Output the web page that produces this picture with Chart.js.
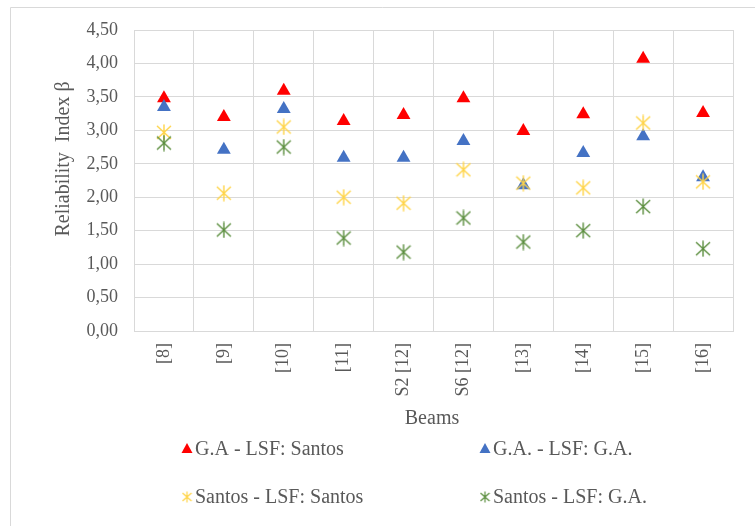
<!DOCTYPE html>
<html>
<head>
<meta charset="utf-8">
<script src="https://cdn.jsdelivr.net/npm/chart.js@4/dist/chart.umd.min.js"></script>
<style>
  html, body { margin: 0; padding: 0; background: #ffffff; }
  #wrap { position: relative; width: 755px; height: 526px; }
</style>
</head>
<body>
<div id="wrap"><canvas id="c" width="755" height="526"></canvas></div>
<script>
// ---- data ----
const categories = ['[8]', '[9]', '[10]', '[11]', 'S2 [12]', 'S6 [12]', '[13]', '[14]', '[15]', '[16]'];
const gaSantos     = [3.48, 3.20, 3.59, 3.14, 3.23, 3.48, 2.99, 3.24, 4.07, 3.26];
const gaGA         = [3.35, 2.71, 3.32, 2.59, 2.59, 2.84, 2.18, 2.66, 2.91, 2.30];
const santosSantos = [2.97, 2.06, 3.05, 2.00, 1.91, 2.41, 2.21, 2.14, 3.11, 2.23];
const santosGA     = [2.81, 1.51, 2.75, 1.39, 1.18, 1.69, 1.33, 1.50, 1.86, 1.23];
const seriesNames  = ['G.A - LSF: Santos', 'G.A. - LSF: G.A.', 'Santos - LSF: Santos', 'Santos - LSF: G.A.'];
const yTickMin = 0, yTickMax = 4.5, yTickStep = 0.5;
const yTitle = 'Reliability  Index β';
const xTitle = 'Beams';

// ---- styles ----
const RED = '#FF0000', BLUE = '#4472C4', YELLOW = '#FFD447', GREEN = '#5B8E3E';
const FONT = "'Liberation Serif', 'Times New Roman', serif";
const TXT = '#595959';
const GRID = '#d9d9d9';

function starCanvas(color, w, h, lw) {
  const c = document.createElement('canvas');
  c.width = w; c.height = h;
  const g = c.getContext('2d');
  g.strokeStyle = color; g.lineWidth = lw; g.lineCap = 'butt';
  g.beginPath();
  g.moveTo(w / 2, 0.5); g.lineTo(w / 2, h - 0.5);
  g.moveTo(1, 2); g.lineTo(w - 1, h - 2);
  g.moveTo(w - 1, 2); g.lineTo(1, h - 2);
  g.stroke();
  return c;
}
const yellowStar = starCanvas(YELLOW, 16, 17, 1.4);
const greenStar = starCanvas(GREEN, 16, 17, 1.4);
const yellowStarSmall = starCanvas(YELLOW, 11, 12, 1.2);
const greenStarSmall = starCanvas(GREEN, 11, 12, 1.2);

const frameAndLabels = {
  id: 'frameAndLabels',
  beforeDraw(chart) {
    const ctx = chart.ctx;
    ctx.save();
    ctx.strokeStyle = GRID; ctx.lineWidth = 1;
    ctx.beginPath();
    ctx.moveTo(10.5, 526); ctx.lineTo(10.5, 7.5); ctx.lineTo(755, 7.5);
    ctx.stroke();
    ctx.restore();
  },
  afterDraw(chart) {
    const ctx = chart.ctx;
    ctx.save();
    ctx.fillStyle = TXT;
    // y title
    ctx.font = '20px ' + FONT;
    ctx.textAlign = 'center'; ctx.textBaseline = 'middle';
    ctx.save();
    ctx.translate(64, 159);
    ctx.rotate(-Math.PI / 2);
    ctx.fillText(yTitle, 0, 0);
    ctx.restore();
    // x title
    ctx.font = '20px ' + FONT;
    ctx.fillText(xTitle, 432, 419);
    // legend
    const items = [
      { x: 187, y: 449, kind: 'tri', color: RED },
      { x: 485, y: 449, kind: 'tri', color: BLUE },
      { x: 187, y: 497, kind: 'img', img: yellowStarSmall },
      { x: 485, y: 497, kind: 'img', img: greenStarSmall }
    ];
    items.forEach((it, i) => {
      if (it.kind === 'tri') {
        ctx.fillStyle = it.color;
        ctx.beginPath();
        ctx.moveTo(it.x, it.y - 6);
        ctx.lineTo(it.x + 5.5, it.y + 4);
        ctx.lineTo(it.x - 5.5, it.y + 4);
        ctx.closePath();
        ctx.fill();
      } else {
        ctx.drawImage(it.img, it.x - 5.5, it.y - 6);
      }
      ctx.fillStyle = TXT;
      ctx.font = '20px ' + FONT;
      ctx.textAlign = 'left'; ctx.textBaseline = 'middle';
      ctx.fillText(chart.data.datasets[i].label, it.x + 8, it.y + 1);
    });
    ctx.restore();
  }
};

new Chart(document.getElementById('c'), {
  type: 'line',
  data: {
    labels: categories,
    datasets: [
      { label: seriesNames[0], data: gaSantos, showLine: false, pointStyle: 'triangle', pointRadius: 8, pointHoverRadius: 8,
        backgroundColor: RED, borderColor: RED, borderWidth: 0, order: 4 },
      { label: seriesNames[1], data: gaGA, showLine: false, pointStyle: 'triangle', pointRadius: 8, pointHoverRadius: 8,
        backgroundColor: BLUE, borderColor: BLUE, borderWidth: 0, order: 3 },
      { label: seriesNames[2], data: santosSantos, showLine: false, pointStyle: yellowStar, pointRadius: 8,
        backgroundColor: YELLOW, borderColor: YELLOW, order: 2 },
      { label: seriesNames[3], data: santosGA, showLine: false, pointStyle: greenStar, pointRadius: 8,
        backgroundColor: GREEN, borderColor: GREEN, order: 1 }
    ]
  },
  options: {
    responsive: false,
    animation: false,
    events: [],
    layout: { padding: { top: 30, right: 22, left: 0, bottom: 0 } },
    plugins: { legend: { display: false }, tooltip: { enabled: false } },
    scales: {
      x: {
        type: 'category',
        offset: true,
        grid: { display: true, color: GRID, offset: true, drawTicks: false },
        border: { display: true, color: GRID },
        ticks: { color: TXT, font: { family: FONT, size: 18 }, minRotation: 90, maxRotation: 90, padding: 12, autoSkip: false },
        afterFit(scale) { scale.height = 526 - 30 - 301; }
      },
      y: {
        min: yTickMin, max: yTickMax,
        grid: { color: GRID, drawTicks: false },
        border: { display: false },
        ticks: {
          stepSize: yTickStep, color: TXT, padding: 16,
          font: { family: FONT, size: 18 },
          callback: v => Number(v).toFixed(2).replace('.', ',')
        },
        afterFit(scale) { scale.width = 134; }
      }
    }
  },
  plugins: [frameAndLabels]
});
</script>
</body>
</html>
